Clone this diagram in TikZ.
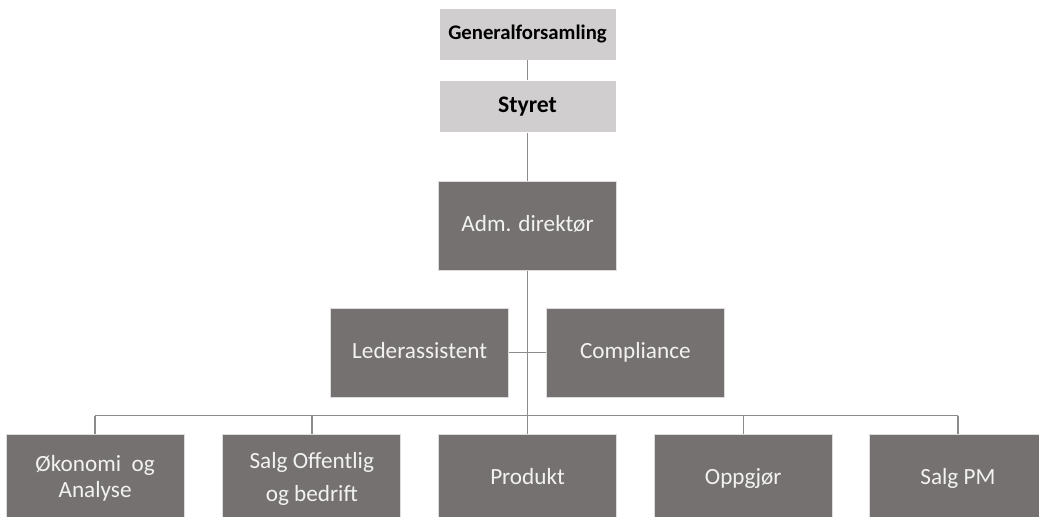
\documentclass[tikz,border=0pt]{standalone}
\usepackage{fontspec}
\setmainfont{Carlito}
\usetikzlibrary{positioning}
\definecolor{BoardGray} {RGB}{208,206,206}
\definecolor{UnitGray}  {RGB}{118,113,113}
\definecolor{LineGray}  {RGB}{140,140,140}
\tikzset{
  % Light header box (general assembly, board)
  govbox/.style={
    rectangle, fill=BoardGray, draw=white, line width=0.4pt,
    font=\bfseries\fontsize{11.8}{14}\selectfont, text=black,
    minimum width=3.54cm, minimum height=1.04cm, inner sep=2pt,
    text height=1.6ex, text depth=0.2ex, align=center
  },
  % Dark unit box
  unitbox/.style={
    rectangle, fill=UnitGray, draw=white!75!UnitGray, line width=0.4pt,
    font=\fontsize{13.2}{14.8}\selectfont, text=white!95!black,
    minimum width=3.56cm, minimum height=1.78cm, inner sep=2pt,
    align=center
  },
  % Single-line unit text, evened out
  oneline/.style={text height=1.6ex, text depth=0.3ex},
  % Org lines
  orgline/.style={
    draw=LineGray, line width=0.8pt
  }
}
\begin{document}
\begin{tikzpicture}[node distance=0.74cm]
  \clip (0,0) rectangle (20.78,-10.34);

  % ── GOVERNANCE ───────────────────────────────────────────────────────────
  \node[govbox] (genfors) at (10.55,-0.68) {Generalforsamling};
  \node[govbox, below=0.4cm of genfors, font=\bfseries\fontsize{13.5}{15}\selectfont]
        (styret) {Styret};

  % ── MANAGEMENT ───────────────────────────────────────────────────────────
  \node[unitbox, oneline, below=0.96cm of styret] (adm) {Adm. direktør};

  % Staff functions either side of the main line
  \node[unitbox, oneline, below left=0.74cm and 0.37cm of adm.south]  (leder) {Lederassistent};
  \node[unitbox, oneline, below right=0.74cm and 0.37cm of adm.south] (compl) {Compliance};

  % ── DEPARTMENTS ──────────────────────────────────────────────────────────
  \node[unitbox, oneline, below=3.26cm of adm] (produkt) {Produkt};
  \node[unitbox, left=of produkt]              (salgoff) {Salg Offentlig\\[4pt]og bedrift};
  \node[unitbox, left=0.76cm of salgoff]       (okon)    {Økonomi\ \ og\\Analyse};
  \node[unitbox, oneline, right=of produkt]    (oppgjor) {Oppgjør};
  \node[unitbox, oneline, right=0.72cm of oppgjor] (salgpm) {Salg PM};

  \coordinate[above=0.36cm of produkt] (bus);

  % ── LINES ────────────────────────────────────────────────────────────────
  \draw[orgline] (genfors) -- (styret);
  \draw[orgline] (styret) -- (adm);
  \draw[orgline] (adm.south) -- (bus);
  \draw[orgline] (leder.east) -- (compl.west);
  \draw[orgline] (okon.north |- bus) -- (salgpm.north |- bus);
  \foreach \dept in {okon, salgoff, produkt, oppgjor, salgpm}
    \draw[orgline] (\dept.north |- bus) -- (\dept.north);

\end{tikzpicture}
\end{document}
